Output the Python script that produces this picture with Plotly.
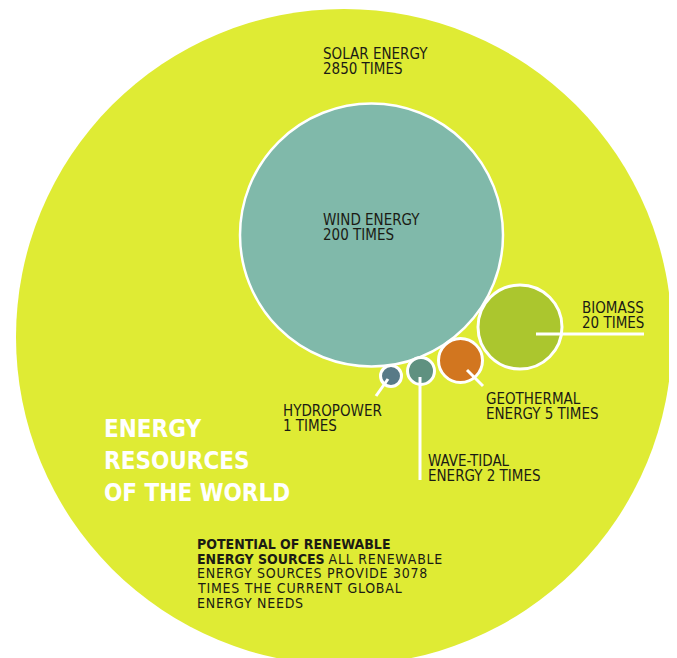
import plotly.graph_objects as go

# ---- data ----
sources = ["SOLAR ENERGY", "WIND ENERGY", "BIOMASS", "GEOTHERMAL ENERGY", "WAVE-TIDAL ENERGY", "HYDROPOWER"]
times = [2850, 200, 20, 5, 2, 1]
label_lines = [
    ["SOLAR ENERGY", "2850 TIMES"],
    ["WIND ENERGY", "200 TIMES"],
    ["BIOMASS", "20 TIMES"],
    ["GEOTHERMAL", "ENERGY 5 TIMES"],
    ["WAVE-TIDAL", "ENERGY 2 TIMES"],
    ["HYDROPOWER", "1 TIMES"],
]
total_times = 3078
title_lines = ["ENERGY", "RESOURCES", "OF THE WORLD"]

# ---- layout (page pixel coordinates; page body has an 8px margin) ----
W, H = 677, 658
OFF = 8
cx = [344, 371.5, 520, 460.5, 421, 391]
cy = [337, 235, 327, 360.5, 371, 376]
rad = [328, 131.5, 42, 22, 13.5, 10.5]
border = [0, 2.5, 3, 3, 3, 3]
colors = ["#dfeb34", "#80b9aa", "#abc62e", "#d2761f", "#5f9180", "#587a87"]
label_x = [321, 321, 580, 484, 426, 281]
label_y = [54, 220, 308, 399, 461, 411]   # centre of first line
line_gap = 15
leaders = [None, None,
           ((536, 334), (644, 334)),
           ((467, 370), (483, 386)),
           ((420, 377), (420, 480)),
           ((388, 379), (376, 396))]

FONT = "DejaVu Sans Condensed"
INK = "#1b1b14"

fig = go.Figure()
fig.add_trace(go.Scatter(x=[OFF, W], y=[OFF, H], mode="markers", marker=dict(opacity=0),
                         hoverinfo="skip", showlegend=False))

shapes = []
for i in range(len(sources)):
    r = rad[i]
    shapes.append(dict(type="circle", xref="x", yref="y",
                       x0=cx[i] - r, x1=cx[i] + r, y0=cy[i] - r, y1=cy[i] + r,
                       fillcolor=colors[i],
                       line=dict(color="white", width=border[i]) if border[i] else dict(width=0),
                       layer="above"))
for ld in leaders:
    if ld is None:
        continue
    (x0, y0), (x1, y1) = ld
    shapes.append(dict(type="line", xref="x", yref="y", x0=x0, y0=y0, x1=x1, y1=y1,
                       line=dict(color="white", width=3), layer="above"))

annotations = []
for i, lines in enumerate(label_lines):
    for j, t in enumerate(lines):
        annotations.append(dict(x=label_x[i], y=label_y[i] + j * line_gap, xref="x", yref="y",
                                text=t, showarrow=False, xanchor="left", yanchor="middle",
                                font=dict(family=FONT, size=15, color=INK)))

for j, t in enumerate(title_lines):
    annotations.append(dict(x=102, y=429 + j * 32, xref="x", yref="y", text=t, showarrow=False,
                            xanchor="left", yanchor="middle",
                            font=dict(family=FONT, size=24, color="white", weight="bold")))

sp = '<span style="letter-spacing:0.75px">%s</span>'
pot_lines = [
    "<b>POTENTIAL OF RENEWABLE</b>",
    "<b>ENERGY SOURCES</b> " + sp % "ALL RENEWABLE",
    sp % ("ENERGY SOURCES PROVIDE %d" % total_times),
    sp % "TIMES THE CURRENT GLOBAL",
    sp % "ENERGY NEEDS",
]
for j, t in enumerate(pot_lines):
    annotations.append(dict(x=195, y=544 + j * 14.7, xref="x", yref="y", text=t, showarrow=False,
                            xanchor="left", yanchor="middle",
                            font=dict(family=FONT, size=14, color=INK)))

fig.update_layout(
    width=W - OFF, height=H - OFF, margin=dict(l=0, r=0, t=0, b=0),
    paper_bgcolor="white", plot_bgcolor="white",
    xaxis=dict(range=[OFF, W], visible=False, fixedrange=True),
    yaxis=dict(range=[H, OFF], visible=False, fixedrange=True),
    shapes=shapes, annotations=annotations, showlegend=False,
)
fig.write_html("out.html", post_script="document.documentElement.style.overflow='hidden';document.body.style.overflow='hidden';")
